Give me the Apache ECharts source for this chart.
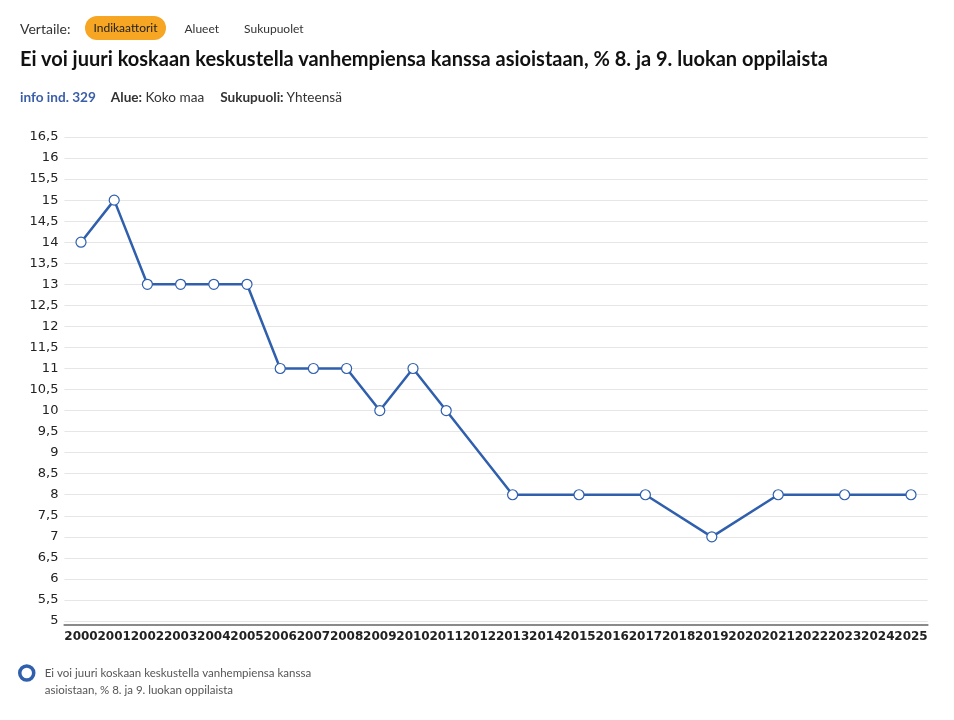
<!DOCTYPE html>
<html><head><meta charset="utf-8">
<script src="https://cdn.jsdelivr.net/npm/echarts@6/dist/echarts.min.js"></script>
<style>
html,body{margin:0;padding:0;background:#fff;width:954px;height:720px;overflow:hidden;font-family:Lato,"Open Sans",sans-serif;color:#222;}
#hdr{position:absolute;left:20px;top:16px;display:flex;align-items:center;height:24px;}
#hdr .lab{color:#333;margin-right:15px;font-size:14px;}
#hdr .pill{background:#f6a623;border-radius:12px;padding:0 8px;height:24px;line-height:24px;font-size:12px;color:#222;margin-right:19px;}
#hdr .opt{font-size:12px;color:#333;margin-right:25px;}
#title{position:absolute;left:20px;top:46px;font-size:20px;font-weight:bold;color:#111;}
#info{position:absolute;left:20px;top:89px;font-size:13.6px;color:#333;}
#info b{font-weight:bold;}
#info .blue{color:#3a5ea8;font-weight:bold;margin-right:15px;}
#info .sp{margin-right:16px;}
#chart{position:absolute;left:0;top:0;width:954px;height:720px;}
</style></head>
<body>
<div id="chart"></div>
<div id="hdr"><span class="lab">Vertaile:</span><span class="pill">Indikaattorit</span><span class="opt">Alueet</span><span class="opt">Sukupuolet</span></div>
<div id="title">Ei voi juuri koskaan keskustella vanhempiensa kanssa asioistaan, % 8. ja 9. luokan oppilaista</div>
<div id="info"><span class="blue">info ind. 329</span><span class="sp"><b>Alue:</b> Koko maa</span><span><b>Sukupuoli:</b> Yhteensä</span></div>
<script>
const years = ["2000","2001","2002","2003","2004","2005","2006","2007","2008","2009","2010","2011","2012","2013","2014","2015","2016","2017","2018","2019","2020","2021","2022","2023","2024","2025"];
const values = [14,15,13,13,13,13,11,11,11,10,11,10,null,8,null,8,null,8,null,7,null,8,null,8,null,8];
const seriesName = "Ei voi juuri koskaan keskustella vanhempiensa kanssa asioistaan, % 8. ja 9. luokan oppilaista";
const legendLines = ["Ei voi juuri koskaan keskustella vanhempiensa kanssa","asioistaan, % 8. ja 9. luokan oppilaista"];
const lineColor = "#2f5fad";

const chart = echarts.init(document.getElementById('chart'), null, {renderer:'canvas'});
chart.setOption({
  animation:false,
  grid:{left:64.4,right:26.4,top:137,bottom:99,containLabel:false},
  xAxis:{
    type:'category', data:years, boundaryGap:true,
    axisLine:{show:true,onZero:false,lineStyle:{color:'#8a8a8a',width:2}},
    axisTick:{show:false},
    offset:4,
    axisLabel:{interval:0,color:'#222',fontFamily:'DejaVu Sans',fontWeight:'bold',fontSize:12,margin:6}
  },
  yAxis:{
    type:'value', min:5, max:16.5, interval:0.5,
    axisLine:{show:false}, axisTick:{show:false},
    splitLine:{lineStyle:{color:'#e6e6e6',width:1}},
    axisLabel:{color:'#222',fontFamily:'DejaVu Sans',fontSize:13,margin:6,
      formatter:v=>String(v).replace('.',',')}
  },
  legend:{
    left:18, top:650, orient:'vertical', padding:0,
    icon:'circle', itemWidth:14, itemHeight:14, itemGap:0,
    itemStyle:{color:'#fff',borderColor:lineColor,borderWidth:3.5},
    formatter:()=>'{a|\u200b}\n{a|'+legendLines[0]+'}\n{a|'+legendLines[1]+'}',
    textStyle:{color:'#555',fontSize:11.5,fontFamily:'Lato,"Open Sans",sans-serif',
      rich:{a:{fontSize:11.5,lineHeight:17,color:'#555',fontFamily:'Lato,"Open Sans",sans-serif',padding:[0,0,0,6]}}},
    data:[seriesName]
  },
  series:[{
    name:seriesName, type:'line', data:values, connectNulls:true,
    symbol:'circle', symbolSize:10, showAllSymbol:true,
    lineStyle:{color:lineColor,width:2.5},
    itemStyle:{color:'#fff',borderColor:lineColor,borderWidth:1.2}
  }]
});
</script>
</body></html>
